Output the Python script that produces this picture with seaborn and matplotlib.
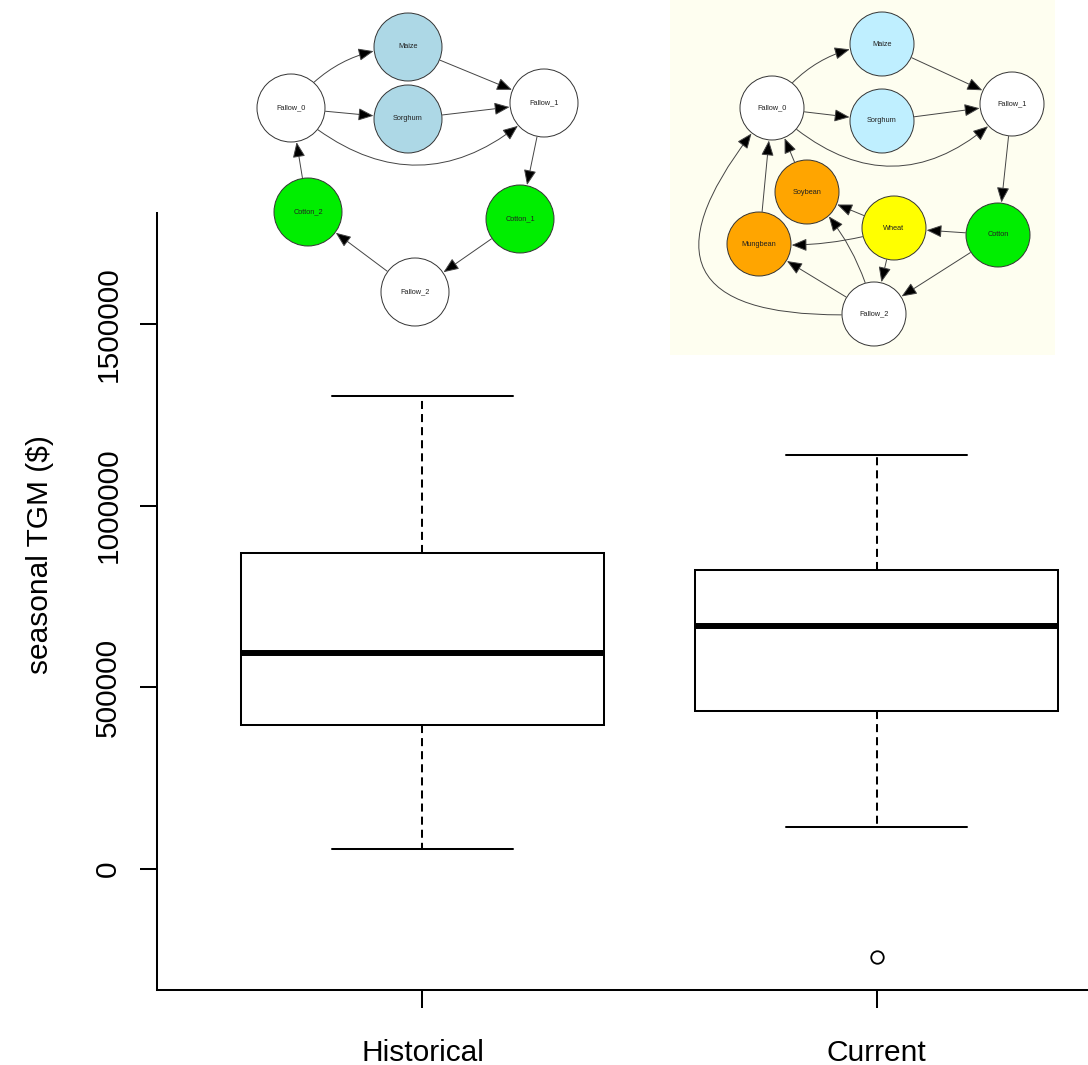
import numpy as np
import pandas as pd
import matplotlib
matplotlib.use("Agg")
import matplotlib.pyplot as plt
import seaborn as sns
from matplotlib.patches import Circle, FancyArrowPatch, Rectangle

# box summaries (whisker low, Q1, median, Q3, whisker high, outliers)
periods = ["Historical", "Current"]
historical_tgm = [55000, 396000, 594000, 870000, 1302000]
current_tgm = [-242000, 115000, 435000, 435000, 668000, 823000, 823000, 1140000, 1140000]

# rotation network, historical (left picture)
left_nodes = ["Fallow_0", "Maize", "Sorghum", "Fallow_1", "Cotton_1", "Fallow_2", "Cotton_2"]
left_x = [291, 408, 408, 544, 520, 415, 308]
left_y = [108, 47, 119, 103, 219, 292, 212]
left_fill = ["white", "#ADD8E6", "#ADD8E6", "white", "#00EE00", "white", "#00EE00"]
left_edges = [
    ("Fallow_0", "Maize", -0.25), ("Fallow_0", "Sorghum", 0.0), ("Fallow_0", "Fallow_1", 0.47),
    ("Maize", "Fallow_1", 0.0), ("Sorghum", "Fallow_1", 0.0), ("Fallow_1", "Cotton_1", 0.0),
    ("Cotton_1", "Fallow_2", 0.0), ("Fallow_2", "Cotton_2", 0.0), ("Cotton_2", "Fallow_0", 0.0),
]

# rotation network, current (right picture)
right_nodes = ["Fallow_0", "Maize", "Sorghum", "Fallow_1", "Cotton", "Wheat", "Soybean", "Mungbean", "Fallow_2"]
right_x = [772, 882, 882, 1012, 998, 894, 807, 759, 874]
right_y = [108, 44, 121, 104, 235, 228, 192, 244, 314]
right_fill = ["white", "#BFEFFF", "#BFEFFF", "white", "#00EE00", "#FFFF00", "#FFA500", "#FFA500", "white"]
right_edges = [
    ("Fallow_0", "Maize", -0.25), ("Fallow_0", "Sorghum", 0.0), ("Fallow_0", "Fallow_1", 0.5),
    ("Maize", "Fallow_1", 0.0), ("Sorghum", "Fallow_1", 0.0), ("Fallow_1", "Cotton", 0.0),
    ("Cotton", "Wheat", 0.0), ("Cotton", "Fallow_2", 0.0), ("Wheat", "Soybean", 0.0),
    ("Wheat", "Mungbean", -0.1), ("Wheat", "Fallow_2", 0.0), ("Fallow_2", "Mungbean", 0.0),
    ("Fallow_2", "Soybean", 0.15), ("Fallow_2", "Fallow_0", -1.15), ("Mungbean", "Fallow_0", 0.0),
    ("Soybean", "Fallow_0", 0.0),
]

W, H = 1088, 1065

df = pd.DataFrame({
    "period": ["Historical"] * len(historical_tgm) + ["Current"] * len(current_tgm),
    "tgm": historical_tgm + current_tgm,
})

sns.set_style("ticks")
plt.rcParams["font.family"] = ["Liberation Sans", "DejaVu Sans"]

fig = plt.figure(figsize=(W / 100, H / 100), dpi=100, facecolor="white")
# plot region in pixels: left spine x=157, bottom y=990, top y=213
ax = fig.add_axes([157 / W, (H - 990) / H, 985 / W, 777 / H])

sns.boxplot(
    data=df, x="period", y="tgm", order=periods, ax=ax,
    width=0.8, color="white", linecolor="black", linewidth=1.45,
    fliersize=9, whis=1.5,
    whiskerprops={"linestyle": (0, (4, 2.5))},
    medianprops={"linewidth": 4.3},
    flierprops={"marker": "o", "markerfacecolor": "none", "markeredgecolor": "black",
                "markeredgewidth": 1.3},
)

ax.set_xlim(-0.5846, 1.5846)
ax.set_ylim(-333000, 1805500)
ax.set_yticks([0, 500000, 1000000, 1500000])
ax.set_yticklabels(["0", "500000", "1000000", "1500000"], rotation=90, va="center")
ax.set_xlabel("")
ax.set_ylabel("seasonal TGM ($)", fontsize=21.5, color="black")
ax.yaxis.set_label_coords(-0.1045, 0.5605)
ax.tick_params(axis="y", length=12, width=1.45, pad=13, labelsize=21.5, colors="black")
ax.tick_params(axis="x", length=13, width=1.45, pad=22, labelsize=21.5, colors="black")
for side in ["top", "right"]:
    ax.spines[side].set_visible(False)
for side in ["left", "bottom"]:
    ax.spines[side].set_linewidth(1.45)
    ax.spines[side].set_color("black")

# overlay in pixel units for the two network pictures
ov = fig.add_axes([0, 0, 1, 1], zorder=5)
ov.set_xlim(0, W)
ov.set_ylim(H, 0)
ov.axis("off")
ov.patch.set_alpha(0)

ov.add_patch(Rectangle((670, 0), 385, 355, facecolor="#FEFEF0", edgecolor="none", zorder=0))


def draw_network(names, xs, ys, fills, edges, r):
    pos = {n: (x, y) for n, x, y in zip(names, xs, ys)}
    shrink = r * 0.72 + 0.5
    for a, b, rad in edges:
        arr = FancyArrowPatch(
            pos[a], pos[b], connectionstyle=f"arc3,rad={rad}",
            arrowstyle="-|>,head_length=0.85,head_width=0.35", mutation_scale=11,
            shrinkA=shrink, shrinkB=shrink, color="#444444", lw=0.7, zorder=2,
        )
        arr.set_facecolor("black")
        ov.add_patch(arr)
    for n, c in zip(names, fills):
        ov.add_patch(Circle(pos[n], r, facecolor=c, edgecolor="#333333", lw=0.7, zorder=3))
        ov.text(pos[n][0], pos[n][1], n, ha="center", va="center", fontsize=5.3,
                color="#222222", zorder=4)


draw_network(left_nodes, left_x, left_y, left_fill, left_edges, 34)
draw_network(right_nodes, right_x, right_y, right_fill, right_edges, 32)

fig.savefig("out.png", dpi=100, facecolor="white")
